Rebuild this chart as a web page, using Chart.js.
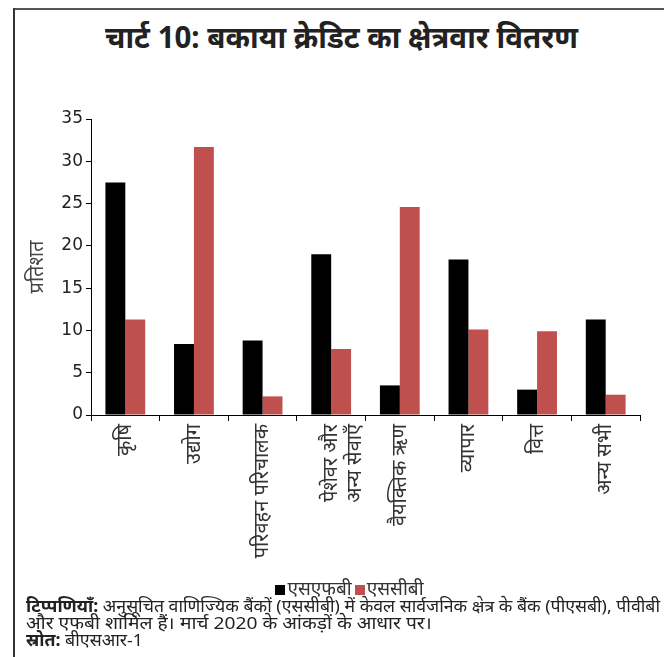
<!DOCTYPE html>
<html lang="hi">
<head>
<meta charset="utf-8">
<title>चार्ट 10: बकाया क्रेडिट का क्षेत्रवार वितरण</title>
<script src="https://cdn.jsdelivr.net/npm/chart.js@4"></script>
<style>
  html, body { margin: 0; padding: 0; background: #fff; }
  #frame {
    position: relative;
    width: 664px;
    height: 657px;
    overflow: hidden;
    font-family: "Noto Sans", "Liberation Sans", sans-serif;
    color: #222;
  }
  #frame .rule-top { position: absolute; left: 13px; top: 8px; right: 0; height: 0; border-top: 2px solid #555; }
  #frame .rule-left { position: absolute; left: 13px; top: 8px; bottom: 0; width: 0; border-left: 2px solid #333; }
  .fit {
    position: absolute;
    white-space: nowrap;
    transform-origin: 0 0;
  }
  #title {
    top: 16px;
    font-size: 31px;
    line-height: 40px;
    font-weight: bold;
    color: #222;
  }
  #chartBox { position: absolute; left: 0; top: 0; width: 664px; height: 600px; }
  #legend {
    position: absolute;
    top: 576px;
    left: 10px;
    width: 682px;
    text-align: center;
    font-size: 19px;
    line-height: 24px;
    color: #333;
    white-space: nowrap;
  }
  #legend .item { display: inline-block; margin-right: 3px; }
  #legend .swatch { display: inline-block; width: 10px; height: 10px; margin-right: 2px; vertical-align: 0px; }
  .note {
    left: 26px;
    font-size: 17px;
    line-height: 18px;
    color: #222;
  }
  .note b { font-weight: bold; }
</style>
</head>
<body>
<div id="frame">
  <div class="rule-top"></div>
  <div class="rule-left"></div>
  <div class="fit" id="title">चार्ट 10: बकाया क्रेडिट का क्षेत्रवार वितरण</div>
  <div id="chartBox"><canvas id="sectorChart"></canvas></div>
  <div id="legend"></div>
  <div class="fit note" id="note1" style="top:597px"><b>टिप्पणियाँ:</b> अनुसूचित वाणिज्यिक बैंकों (एससीबी) में केवल सार्वजनिक क्षेत्र के बैंक (पीएसबी), पीवीबी</div>
  <div class="fit note" id="note2" style="top:614px">और एफबी शामिल हैं। मार्च 2020 के आंकड़ों के आधार पर।</div>
  <div class="fit note" id="note3" style="top:631px"><b>स्रोत:</b> बीएसआर-1</div>
</div>

<script>
// Sector categories (multi-line labels as arrays)
const sectors = [
    'कृषि',
    'उद्योग',
    'परिवहन परिचालक',
    ['पेशेवर और', 'अन्य सेवाएँ'],
    'वैयक्तिक ऋण',
    'व्यापार',
    'वित्त',
    'अन्य सभी'
];

// Share of outstanding credit, per cent
const sfbShare = [27.5, 8.4, 8.8, 19.0, 3.5, 18.4, 3.0, 11.3];
const scbShare = [11.3, 31.7, 2.2, 7.8, 24.6, 10.1, 9.9, 2.4];

const seriesNames = ['एसएफबी', 'एससीबी'];
const yTicks = [0, 5, 10, 15, 20, 25, 30, 35];

const colors = {
    sfb: '#000000',
    scb: '#C0504D',
    axis: '#000000',
    text: '#333333'
};

const tickFont = { family: '"DejaVu Sans", sans-serif', size: 17 };
const labelFont = { family: '"Noto Sans", sans-serif', size: 20 };

const ctx = document.getElementById('sectorChart');

const chart = new Chart(ctx, {
    type: 'bar',
    data: {
        labels: sectors,
        datasets: [
            {
                label: seriesNames[0],
                data: sfbShare,
                backgroundColor: colors.sfb,
                borderWidth: 0,
                barPercentage: 1,
                categoryPercentage: 0.58
            },
            {
                label: seriesNames[1],
                data: scbShare,
                backgroundColor: colors.scb,
                borderWidth: 0,
                barPercentage: 1,
                categoryPercentage: 0.58
            }
        ]
    },
    options: {
        responsive: true,
        maintainAspectRatio: false,
        animation: false,
        layout: {
            padding: { top: 119, left: 14, right: 24, bottom: 0 }
        },
        plugins: {
            title: { display: false },
            tooltip: { enabled: false },
            legend: { display: false }
        },
        scales: {
            x: {
                afterFit: function(scale) { scale.height = 185; },
                border: { display: true, color: colors.axis, width: 1 },
                grid: {
                    display: true,
                    offset: true,
                    drawOnChartArea: false,
                    drawTicks: true,
                    tickLength: 6,
                    tickColor: colors.axis
                },
                ticks: {
                    minRotation: 90,
                    maxRotation: 90,
                    autoSkip: false,
                    padding: 3,
                    color: colors.text,
                    font: labelFont
                }
            },
            y: {
                min: 0,
                max: 35,
                afterFit: function(scale) { scale.width = 77; },
                afterBuildTicks: function(scale) {
                    scale.ticks = yTicks.map(v => ({ value: v }));
                },
                border: { display: true, color: colors.axis, width: 1 },
                grid: {
                    display: true,
                    drawOnChartArea: false,
                    drawTicks: true,
                    tickLength: 5,
                    tickColor: colors.axis
                },
                ticks: {
                    padding: 3,
                    color: '#222',
                    font: tickFont
                },
                title: {
                    display: true,
                    text: 'प्रतिशत',
                    color: '#444',
                    font: labelFont,
                    padding: { top: 11, bottom: 0 }
                }
            }
        }
    }
});

// Legend built from the chart's own datasets
const legendEl = document.getElementById('legend');
chart.data.datasets.forEach(ds => {
    const item = document.createElement('span');
    item.className = 'item';
    const sw = document.createElement('span');
    sw.className = 'swatch';
    sw.style.background = ds.backgroundColor;
    item.appendChild(sw);
    item.appendChild(document.createTextNode(ds.label));
    legendEl.appendChild(item);
});

// Squeeze the condensed title and footnote lines to their printed widths
function fitText(id, left, width) {
    const el = document.getElementById(id);
    el.style.left = left + 'px';
    const w = el.getBoundingClientRect().width;
    if (w > 0) el.style.transform = 'scaleX(' + (width / w) + ')';
}
fitText('title', 105, 473);
fitText('note1', 26, 634);
fitText('note2', 26, 406);
fitText('note3', 26, 117);
</script>
</body>
</html>
